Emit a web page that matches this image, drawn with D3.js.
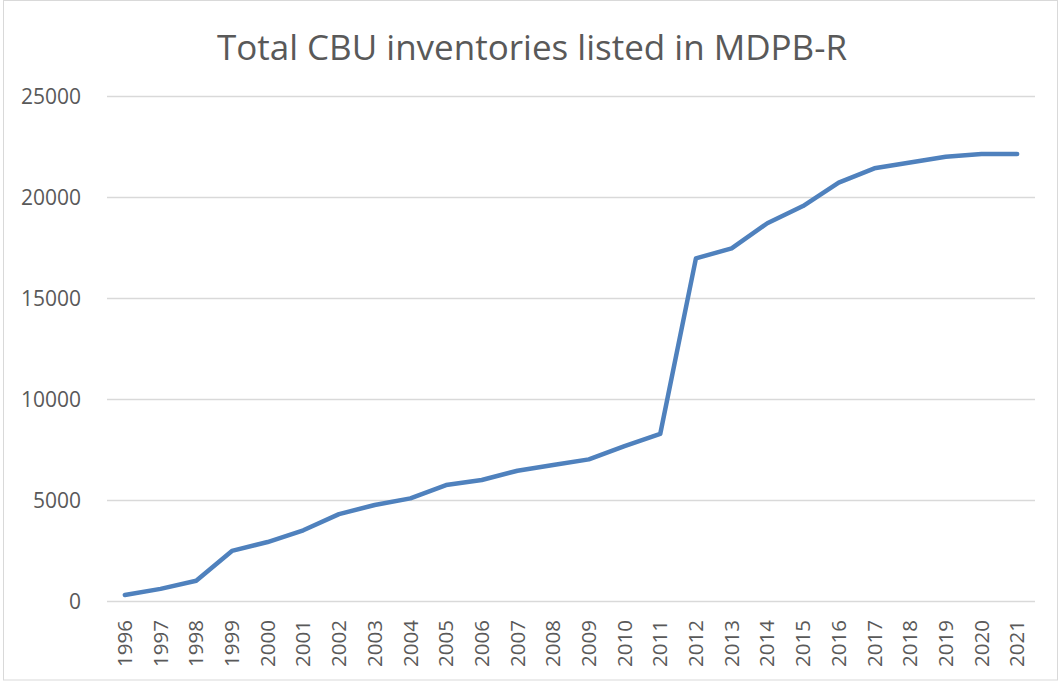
<!DOCTYPE html>
<html>
<head>
<meta charset="utf-8">
<script src="https://cdn.jsdelivr.net/npm/d3@7"></script>
<style>
  body { margin: 0; background: #fff; }
  svg text { font-family: "Open Sans", "Noto Sans", sans-serif; fill: #595959; }
</style>
</head>
<body>
<div id="chart"></div>
<script>
var width = 1061,
    height = 684;

var title = "Total CBU inventories listed in MDPB-R";

var years = ["1996", "1997", "1998", "1999", "2000", "2001", "2002", "2003", "2004",
             "2005", "2006", "2007", "2008", "2009", "2010", "2011", "2012", "2013",
             "2014", "2015", "2016", "2017", "2018", "2019", "2020", "2021"];

var inventories = [300, 600, 1000, 2480, 2920, 3500, 4300, 4750, 5080,
                   5740, 5990, 6450, 6730, 7010, 7670, 8270, 16960, 17460,
                   18700, 19550, 20710, 21420, 21710, 21990, 22130, 22130];

var yTicks = [0, 5000, 10000, 15000, 20000, 25000];

var margin = {top: 96, right: 26, bottom: 83, left: 107};
var fontFamily = "'Open Sans', 'Noto Sans', sans-serif";

var svg = d3.select("#chart").append("svg")
    .attr("width", width)
    .attr("height", height);

// chart area border
svg.append("rect")
    .attr("x", 3.5)
    .attr("y", 0.5)
    .attr("width", width - 7)
    .attr("height", height - 4.5)
    .attr("fill", "none")
    .attr("stroke", "#d9d9d9");

svg.append("text")
    .attr("x", 532)
    .attr("y", 60)
    .attr("text-anchor", "middle")
    .attr("font-family", fontFamily)
    .attr("font-size", 35)
    .style("font-size", "35px")
    .text(title);

var x = d3.scaleBand()
    .domain(years)
    .range([margin.left, width - margin.right]);

var y = d3.scaleLinear()
    .domain([0, 25000])
    .range([height - margin.bottom, margin.top]);

// gridlines
svg.append("g")
    .selectAll("line")
    .data(yTicks)
  .enter().append("line")
    .attr("x1", margin.left)
    .attr("x2", width - margin.right)
    .attr("y1", function(d) { return Math.round(y(d)) + 0.5; })
    .attr("y2", function(d) { return Math.round(y(d)) + 0.5; })
    .attr("stroke", "#d9d9d9")
    .attr("stroke-width", 1.3);

// y axis labels
var yAxis = svg.append("g")
    .attr("transform", "translate(" + (margin.left - 26) + ",0)")
    .call(d3.axisLeft(y).tickValues(yTicks).tickSize(0).tickPadding(0).tickFormat(d3.format("d")))
    .attr("font-family", fontFamily)
    .attr("font-size", 21);
yAxis.select(".domain").remove();
yAxis.selectAll("text")
    .style("font-size", "21px")
    .attr("dy", "0.35em");

// x axis labels, rotated
var xAxis = svg.append("g")
    .attr("transform", "translate(0," + (height - margin.bottom) + ")")
    .call(d3.axisBottom(x).tickSize(0).tickPadding(0))
    .attr("font-family", fontFamily)
    .attr("font-size", 20.5);
xAxis.select(".domain").remove();
xAxis.selectAll("text")
    .style("font-size", "20.5px")
    .attr("text-anchor", "end")
    .attr("transform", "rotate(-90)")
    .attr("x", -19)
    .attr("y", 0)
    .attr("dy", "0.35em");

var line = d3.line()
    .x(function(d, i) { return x(years[i]) + x.bandwidth() / 2; })
    .y(function(d) { return y(d); });

svg.append("path")
    .datum(inventories)
    .attr("fill", "none")
    .attr("stroke", "#4f81bd")
    .attr("stroke-width", 4.5)
    .attr("stroke-linecap", "round")
    .attr("stroke-linejoin", "round")
    .attr("d", line);
</script>
</body>
</html>
